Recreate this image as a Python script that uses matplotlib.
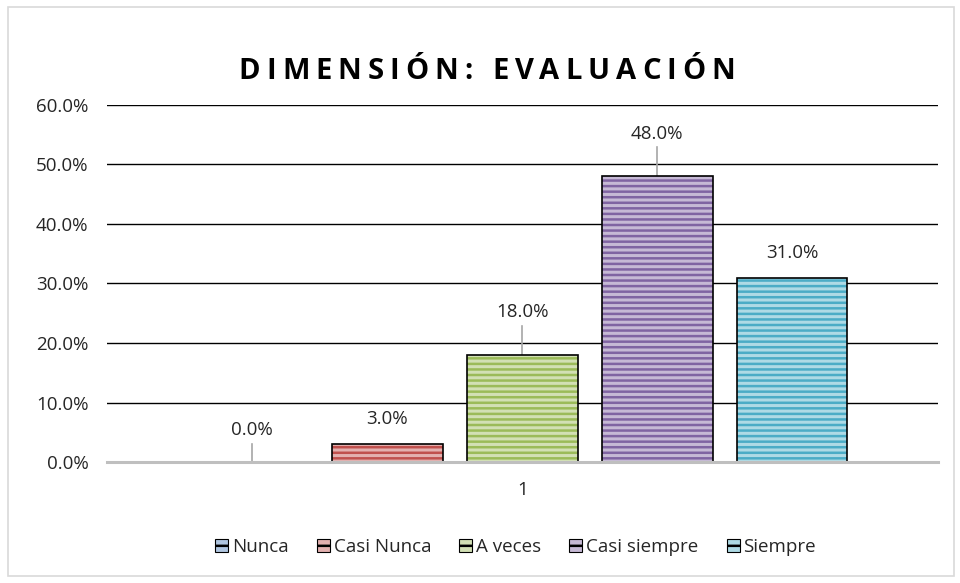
import numpy as np
import matplotlib.pyplot as plt
from matplotlib.patches import Rectangle, Patch
from matplotlib.colors import to_rgb

categories = ['Nunca', 'Casi Nunca', 'A veces', 'Casi siempre', 'Siempre']
values = [0.0, 3.0, 18.0, 48.0, 31.0]
colors = ['#4F81BD', '#C0504D', '#9BBB59', '#8064A2', '#4BACC6']
leader = [True, False, True, True, False]
title = 'DIMENSIÓN: EVALUACIÓN'

plt.rcParams['font.family'] = ['Open Sans', 'DejaVu Sans']
plt.rcParams['hatch.linewidth'] = 1.8


def lighten(c, f=0.55):
    r = np.array(to_rgb(c))
    return tuple(r + (1 - r) * f)


fig = plt.figure(figsize=(9.6, 5.83), dpi=100)
ax = fig.add_axes([0.111, 0.2075, 0.866, 0.6125])

x = np.arange(len(categories))
w = 0.82
for xi, v, c in zip(x, values, colors):
    ax.bar(xi, v, w, color=lighten(c), edgecolor=c, hatch='---', linewidth=0, zorder=3)
    if v > 0:
        ax.bar(xi, v, w, fill=False, edgecolor='black', linewidth=1.2, zorder=4)

for xi, v, ld in zip(x, values, leader):
    off = 7.2 if ld else 4.2
    if v == 0:
        off = 5.4
    ax.text(xi, v + off, f'{v:.1f}%', ha='center', va='center', fontsize=13.5, color='#262626')
    if ld:
        ax.plot([xi, xi], [v, v + off - 2.3], color='#A6A6A6', lw=1.2, zorder=2)

ax.set_ylim(0, 60)
ax.set_xlim(-1.08, 5.08)
ax.set_yticks(np.arange(0, 61, 10))
ax.set_yticklabels([f'{t:.1f}%' for t in np.arange(0, 61, 10)], fontsize=13.5, color='#262626')
ax.set_xticks([2])
ax.set_xticklabels(['1'], fontsize=13.5, color='#262626')
ax.tick_params(axis='y', length=0, pad=13)
ax.tick_params(axis='x', length=0, pad=14)
ax.grid(axis='y', color='black', lw=1.0, zorder=0)
ax.set_axisbelow(True)
for s in ['top', 'right', 'left']:
    ax.spines[s].set_visible(False)
ax.spines['bottom'].set_color('#BFBFBF')
ax.spines['bottom'].set_linewidth(2.2)
ax.spines['bottom'].set_zorder(5)

# title with letter spacing, drawn char by char
fig.canvas.draw()
r = fig.canvas.get_renderer()
tprops = dict(fontsize=21, fontweight='bold', color='black', va='center', ha='left')
widths = []
for ch in title:
    t = fig.text(0, 0, ch if ch != ' ' else 'n', **tprops)
    wd = t.get_window_extent(r).width
    widths.append(wd * 0.4 if ch == ' ' else wd)
    t.remove()
spacing = 6.0
total = sum(widths) + spacing * (len(title) - 1)
xpos = (960 - total) / 2 + 7
for ch, cw in zip(title, widths):
    if ch != ' ':
        fig.text(xpos / 960, 0.877, ch, **tprops)
    xpos += cw + spacing

handles = [Patch(facecolor=lighten(c), edgecolor='black', hatch='--', linewidth=0.8) for c in colors]
fig.legend(handles, categories, loc='center', bbox_to_anchor=(0.537, 0.062), ncol=5,
           frameon=False, fontsize=13.5, handlelength=0.7, handleheight=0.7,
           handletextpad=0.2, columnspacing=1.5, labelcolor='#262626')

fig.patches.append(Rectangle((0.008, 0.012), 0.986, 0.976, transform=fig.transFigure,
                             fill=False, edgecolor='#D9D9D9', lw=1.2))

fig.savefig('out.png', dpi=100)
